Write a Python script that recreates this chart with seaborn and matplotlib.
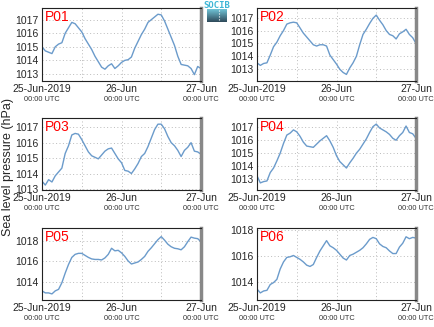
import numpy as np
import pandas as pd
import matplotlib
matplotlib.use("Agg")
import matplotlib.pyplot as plt
import matplotlib.dates as mdates
import seaborn as sns

# ---- data (hourly sea level pressure, hPa) ----
station_names = ["P01", "P02", "P03", "P04", "P05", "P06"]
start_time = "2019-06-25 00:00"
p01 = [1015.0, 1014.7, 1014.6, 1014.5, 1015.0, 1015.2, 1015.3, 1016.0, 1016.4, 1016.8,
       1016.7, 1016.4, 1016.1, 1015.6, 1015.2, 1014.8, 1014.3, 1013.9, 1013.5, 1013.35,
       1013.6, 1013.75, 1013.4, 1013.6, 1013.85, 1014.0, 1014.05, 1014.25, 1014.9, 1015.4,
       1015.9, 1016.3, 1016.8, 1017.0, 1017.2, 1017.4, 1017.35, 1016.9, 1016.3, 1015.7,
       1015.1, 1014.3, 1013.7, 1013.65, 1013.6, 1013.4, 1012.95, 1013.55, 1013.4]
p02 = [1013.5, 1013.3, 1013.45, 1013.5, 1014.1, 1014.75, 1015.1, 1015.6, 1016.0, 1016.5,
       1016.6, 1016.65, 1016.6, 1016.2, 1015.8, 1015.5, 1015.2, 1014.9, 1014.8, 1014.9,
       1014.9, 1014.8, 1014.1, 1013.75, 1013.4, 1013.0, 1012.75, 1012.6, 1013.1, 1013.5,
       1014.0, 1014.9, 1015.7, 1016.1, 1016.55, 1016.95, 1017.2, 1016.8, 1016.45, 1016.0,
       1015.7, 1015.6, 1015.35, 1015.75, 1015.9, 1016.1, 1015.7, 1015.45, 1015.0]
p03 = [1013.5, 1013.25, 1013.6, 1013.45, 1013.85, 1014.1, 1014.35, 1015.3, 1015.8, 1016.5,
       1016.6, 1016.55, 1016.2, 1015.8, 1015.4, 1015.15, 1015.05, 1014.95, 1015.2, 1015.45,
       1015.6, 1015.65, 1015.3, 1014.95, 1014.7, 1014.2, 1014.15, 1014.0, 1014.3, 1014.65,
       1015.1, 1015.3, 1015.75, 1016.3, 1016.85, 1017.2, 1017.2, 1016.9, 1016.4, 1016.0,
       1015.8, 1015.5, 1015.1, 1015.5, 1015.7, 1016.0, 1015.45, 1015.4, 1015.25]
p04 = [1013.25, 1012.7, 1012.8, 1012.85, 1013.5, 1013.85, 1014.4, 1015.0, 1015.75, 1016.4,
       1016.55, 1016.8, 1016.65, 1016.3, 1015.85, 1015.55, 1015.5, 1015.45, 1015.7, 1015.95,
       1016.15, 1016.35, 1015.95, 1015.45, 1014.8, 1014.35, 1014.1, 1013.85, 1014.25, 1014.6,
       1015.0, 1015.3, 1015.7, 1016.1, 1016.6, 1017.05, 1017.25, 1016.95, 1016.8, 1016.65,
       1016.45, 1016.15, 1016.0, 1016.35, 1016.6, 1017.1, 1016.6, 1016.5, 1016.15]
p05 = [1013.1, 1012.9, 1012.9, 1012.8, 1013.1, 1013.25, 1013.9, 1014.85, 1015.7, 1016.4,
       1016.7, 1016.8, 1016.8, 1016.6, 1016.4, 1016.25, 1016.2, 1016.2, 1016.15, 1016.35,
       1016.7, 1017.3, 1017.05, 1017.1, 1016.85, 1016.5, 1016.05, 1015.75, 1015.85, 1015.95,
       1016.2, 1016.5, 1017.0, 1017.35, 1017.75, 1018.15, 1018.45, 1018.1, 1017.7, 1017.45,
       1017.3, 1017.25, 1017.15, 1017.45, 1017.95, 1018.4, 1018.3, 1018.25, 1017.95]
p06 = [1013.45, 1013.15, 1013.3, 1013.35, 1013.8, 1013.95, 1014.2, 1015.0, 1015.55, 1015.9,
       1015.95, 1016.05, 1015.9, 1015.75, 1015.55, 1015.3, 1015.2, 1015.35, 1015.9, 1016.4,
       1016.8, 1017.2, 1016.8, 1016.65, 1016.45, 1016.15, 1015.85, 1015.7, 1016.05, 1016.15,
       1016.3, 1016.45, 1016.65, 1016.95, 1017.3, 1017.45, 1017.35, 1016.95, 1016.75, 1016.65,
       1016.4, 1016.2, 1016.2, 1016.7, 1017.0, 1017.5, 1017.35, 1017.45, 1017.4]
series = [p01, p02, p03, p04, p05, p06]
y_ticks = [[1013, 1014, 1015, 1016, 1017], [1013, 1014, 1015, 1016, 1017],
           [1013, 1014, 1015, 1016, 1017], [1013, 1014, 1015, 1016, 1017],
           [1014, 1016, 1018], [1014, 1016, 1018]]
x_tick_labels = ["25-Jun-2019", "26-Jun", "27-Jun"]
x_sub_label = "00:00 UTC"
y_label = "Sea level pressure (hPa)"
logo_text = "SOCIB"

# ---- styling ----
sns.set_style("white")
plt.rcParams["font.family"] = ["Liberation Sans", "DejaVu Sans"]

W, H = 435, 327
fig = plt.figure(figsize=(W / 100, H / 100), dpi=100)

# axes pixel boxes (left, right, top, bottom)
cols = [(42, 201), (257, 416)]
rows = [(8, 81), (118, 190), (228, 300)]
ylims = [(1012.48, 1017.86), (1012.09, 1017.75), (1012.93, 1017.6),
         (1012.15, 1017.72), (1012.2, 1019.3), (1012.6, 1018.18)]

times = pd.date_range(start_time, periods=len(p01), freq="h")
t0 = times[0]
t_end = t0 + pd.Timedelta(hours=48)
major = [t0, t0 + pd.Timedelta(hours=24), t_end]
grid_x = [t0 + pd.Timedelta(hours=h) for h in range(0, 49, 12)]

line_color = "#6b9bcb"

for i, (name, vals) in enumerate(zip(station_names, series)):
    r, c = divmod(i, 2)
    l, rr = cols[c]
    t, b = rows[r]
    ax = fig.add_axes([l / W, 1 - b / H, (rr - l) / W, (b - t) / H])
    df = pd.DataFrame({"time": times, "pressure": vals})
    sns.lineplot(data=df, x="time", y="pressure", ax=ax, color=line_color, lw=1.0)
    ax.set_xlim(t0, t_end)
    ax.set_ylim(*ylims[i])
    ax.set_xlabel("")
    ax.set_ylabel("")
    # grid
    for gx in grid_x:
        ax.axvline(gx, color="#bbbbbb", lw=0.7, ls=(0, (1, 2.5)), zorder=0)
    for gy in y_ticks[i]:
        ax.axhline(gy, color="#bbbbbb", lw=0.7, ls=(0, (1, 2.5)), zorder=0)
    ax.set_yticks(y_ticks[i])
    ax.set_yticklabels([str(v) for v in y_ticks[i]], fontsize=7.5)
    ax.set_xticks(major)
    ax.set_xticklabels(x_tick_labels, fontsize=7.5)
    ax.tick_params(axis="both", length=0, pad=2.5)
    for xt in major:
        ax.annotate(x_sub_label, xy=(mdates.date2num(xt), 0), xycoords=("data", "axes fraction"),
                    xytext=(0, -10.5), textcoords="offset points", ha="center", va="top",
                    fontsize=5.3, color="#333333")
    for side in ["left", "bottom", "top"]:
        ax.spines[side].set_color("#222222")
        ax.spines[side].set_linewidth(0.8)
    ax.spines["right"].set_color("#888888")
    ax.spines["right"].set_linewidth(2.5)
    ax.text(0.02, 0.97, name, transform=ax.transAxes, color="red", fontsize=10,
            ha="left", va="top")

fig.text(8 / W, 0.49, y_label, rotation=90, ha="center", va="center", fontsize=9)

# logo
lax = fig.add_axes([207 / W, 1 - 22 / H, 20 / W, 13 / H])
grad = np.linspace(0, 1, 50).reshape(-1, 1)
lax.imshow(grad, aspect="auto", extent=(0, 1, 1, 0), cmap=matplotlib.colors.LinearSegmentedColormap.from_list(
    "logo", ["#6fc3d6", "#2f4a5a"]))
lax.plot([0.6, 0.6], [0.1, 0.9], color="white", lw=0.8, ls=":")
lax.set_xlim(0, 1)
lax.set_ylim(1, 0)
lax.set_axis_off()
fig.text(217 / W, 1 - 5 / H, logo_text, color="#3fb6d6", fontsize=6.5, ha="center",
         va="center", fontweight="bold", family="DejaVu Sans Mono")

fig.savefig("out.png", dpi=100)
